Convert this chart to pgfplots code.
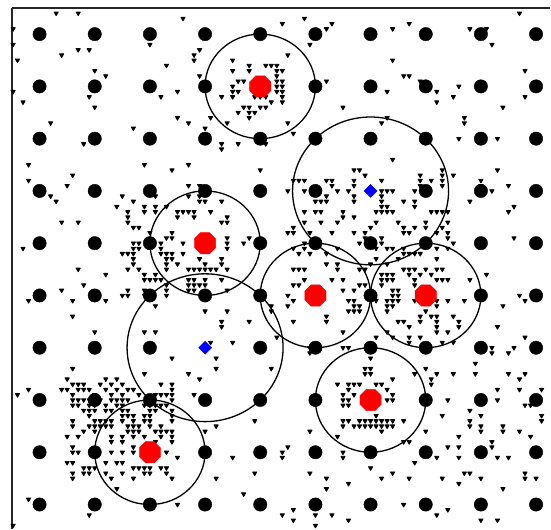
\documentclass[border=0pt]{standalone}
\usepackage{pgfplots}
\pgfplotsset{compat=1.18}
\pgfdeclareplotmark{oct}{%
  \pgfpathmoveto{\pgfpointpolar{22.5}{\pgfplotmarksize}}%
  \pgfpathlineto{\pgfpointpolar{67.5}{\pgfplotmarksize}}%
  \pgfpathlineto{\pgfpointpolar{112.5}{\pgfplotmarksize}}%
  \pgfpathlineto{\pgfpointpolar{157.5}{\pgfplotmarksize}}%
  \pgfpathlineto{\pgfpointpolar{202.5}{\pgfplotmarksize}}%
  \pgfpathlineto{\pgfpointpolar{247.5}{\pgfplotmarksize}}%
  \pgfpathlineto{\pgfpointpolar{292.5}{\pgfplotmarksize}}%
  \pgfpathlineto{\pgfpointpolar{337.5}{\pgfplotmarksize}}%
  \pgfpathclose\pgfusepathqfillstroke}
\begin{document}
\begin{tikzpicture}
\begin{axis}[x=55.2bp, y=52.3bp, scale only axis,
  xmin=0.5, xmax=10.26, ymin=0.54, ymax=10.5,
  axis x line*=top, axis y line*=left, ticks=none,
  axis line style={-, line width=1.2bp, black!85}]
% small sample points
\addplot[only marks, mark=triangle*, mark size=2.4bp, mark options={rotate=180, fill=black, draw=black, line width=0.9bp, line join=round}] coordinates {
(1.3,10.4)(1.7,10.4)(3.6,10.3)(5.4,10.2)(5.8,10.3)(6.3,10.2)(6.2,10.1)(0.52,10.1)
(0.52,9.8)(3.0,9.8)(1.7,9.7)(1.9,9.7)(3.9,9.7)(5.9,9.8)(1.4,9.6)(3.8,9.6)(3.8,9.5)(5.5,9.6)(0.6,9.5)(3.3,9.4)(4.5,9.5)(4.5,9.3)(4.8,9.4)(4.8,9.3)(5.1,9.4)(5.2,9.4)(5.3,9.4)(5.3,9.3)(5.4,9.3)(2.0,9.3)(2.2,9.2)(3.9,9.2)(4.6,9.1)(4.7,9.1)(5.3,9.1)(5.4,9.1)(5.3,9.2)(6.2,9.1)(4.5,9.0)(4.5,8.9)(4.6,8.9)(5.3,9.0)(5.4,9.0)(5.3,8.9)(5.4,8.9)(0.52,8.9)(3.5,8.9)
(1.9,8.8)(3.2,8.8)(4.3,8.8)(4.5,8.8)(4.9,8.8)(5.0,8.8)(5.1,8.8)(5.2,8.7)(5.4,8.8)(5.4,8.7)(0.7,8.7)(4.7,8.6)(4.8,8.6)(5.0,8.6)(5.1,8.6)(2.0,8.6)(6.5,8.6)(4.6,8.5)(4.8,8.5)(4.8,8.4)(4.9,8.5)(3.5,8.4)(4.1,8.4)(1.2,8.3)(3.7,8.3)(4.4,8.3)(5.5,8.3)(2.7,8.2)(4.0,8.2)(5.6,8.1)(1.8,7.9)(4.3,7.9)(4.3,7.8)(4.6,7.9)(5.1,7.9)
(0.8,7.5)(2.9,7.5)(3.7,7.5)(3.4,7.4)(5.0,7.4)(6.7,7.4)(1.6,7.3)(0.8,7.2)(5.6,7.2)(5.7,7.2)(5.8,7.2)(6.2,7.2)(6.3,7.2)(6.3,7.1)(6.7,7.2)(6.7,7.1)(3.7,7.1)(3.9,7.1)(1.5,7.1)(5.8,7.0)(5.5,7.0)(6.4,7.0)(6.6,7.0)(1.2,6.9)(1.3,6.8)(2.5,6.9)(3.7,6.9)(3.9,6.9)(4.3,6.8)(3.1,6.9)(2.7,6.8)(6.0,6.8)(6.1,6.8)(6.2,6.8)(6.2,6.9)(6.7,6.9)(6.7,6.8)
(2.6,6.6)(2.6,6.5)(2.6,6.4)(2.4,6.7)(2.9,6.7)(2.9,6.6)(3.1,6.7)(3.1,6.6)(3.3,6.7)(3.5,6.6)(3.6,6.6)(3.5,6.5)(3.8,6.6)(3.9,6.8)(4.0,6.8)(3.7,6.6)(3.8,6.5)(4.1,6.6)(5.8,6.6)(6.0,6.6)(6.1,6.6)(6.5,6.6)(6.7,6.5)(1.4,6.4)(1.7,6.4)(4.3,6.4)(4.4,6.4)(4.4,6.5)(5.8,6.4)(6.1,6.4)(6.4,6.4)(6.5,6.5)(2.7,6.3)(2.8,6.3)(5.5,6.2)(5.6,6.2)(5.6,6.3)(3.0,6.2)(3.4,6.2)(5.9,6.2)(6.3,6.2)(6.7,6.2)(2.7,6.0)(2.8,6.0)(2.7,5.9)(2.8,5.9)(2.5,5.8)(2.6,5.8)(3.2,6.0)(3.4,6.1)(3.3,6.1)(3.6,6.0)(4.4,6.1)(4.4,6.0)(4.4,5.9)(4.7,6.0)(4.8,6.1)(0.7,5.9)(5.6,5.9)(5.8,5.9)(5.8,6.0)
(2.7,5.8)(2.7,5.7)(3.2,5.9)(3.2,5.8)(3.3,5.8)(3.4,5.8)(3.3,5.7)(3.4,5.7)(3.6,5.8)(3.9,5.7)(4.3,5.7)(5.7,5.8)(5.9,5.8)(6.2,5.8)(6.4,5.9)(1.7,5.5)(2.2,5.4)(2.7,5.6)(2.8,5.5)(2.6,5.5)(2.9,5.4)(3.1,5.4)(3.3,5.6)(3.3,5.5)(3.5,5.6)(3.7,5.5)(3.8,5.5)(3.9,5.5)(4.0,5.6)(4.0,5.5)(4.1,5.5)(4.2,5.5)(4.3,5.6)(4.4,5.5)(5.6,5.5)(5.7,5.5)(5.8,5.5)(6.2,5.6)(6.4,5.6)(6.4,5.5)(5.8,5.3)(6.3,5.3)(6.5,5.3)(2.9,5.3)(3.0,5.3)(3.1,5.3)(3.2,5.3)(3.7,5.3)(3.8,5.3)(4.0,5.3)(4.0,5.2)(4.3,5.3)(3.7,5.2)(3.8,5.2)(3.9,5.2)(3.3,5.2)(5.6,5.2)(5.7,5.2)(1.8,5.2)(1.4,5.1)(2.6,5.1)(2.5,5.0)(2.6,5.0)(2.9,5.1)(2.9,5.0)(3.3,5.1)(3.3,5.0)(3.7,5.1)(3.8,5.1)(4.4,5.1)(5.5,5.0)(6.5,5.1)(6.7,5.1)
(0.8,4.9)(1.6,4.9)(2.2,4.9)(3.1,4.8)(4.0,4.7)(4.4,4.7)(5.2,4.8)(5.2,4.7)(5.5,4.8)(5.6,4.9)(6.6,4.9)(6.7,4.9)(6.7,4.8)(6.6,4.7)(6.7,4.7)(6.2,4.6)(6.2,4.5)(1.6,4.6)(4.3,4.5)(4.3,4.4)(4.8,4.5)(5.6,4.5)(2.0,4.3)(2.9,4.3)(3.1,4.3)(6.5,4.3)(5.3,4.2)(4.5,4.1)(4.1,4.1)(5.9,3.9)(5.9,4.0)(6.5,4.0)(6.6,4.0)
(3.4,3.8)(4.2,3.8)(1.6,3.6)(5.2,3.6)(4.2,3.6)(2.9,3.5)(3.7,3.5)(3.9,3.4)(1.5,3.4)(1.6,3.3)(1.7,3.3)(1.8,3.3)(2.1,3.3)(2.2,3.4)(2.3,3.3)(2.4,3.4)(2.5,3.3)(2.6,3.2)(2.7,3.2)(3.2,3.3)(3.4,3.3)(6.4,3.3)(6.6,3.3)(6.7,3.3)(6.6,3.2)(6.5,3.1)(0.8,3.2)(0.6,3.1)(1.4,3.2)(1.5,3.2)(1.7,3.2)(1.8,3.2)(1.9,3.2)(2.2,3.2)(2.4,3.2)(3.4,3.2)(1.6,3.1)(2.0,3.1)(2.3,3.1)(2.5,3.1)(2.8,3.1)(3.1,3.1)(3.2,3.1)(3.3,3.1)(3.4,3.1)(3.8,3.1)(6.7,3.1)
(1.6,3.0)(1.7,3.0)(1.8,3.0)(1.9,3.0)(2.1,3.0)(2.3,3.0)(2.4,3.0)(2.5,3.0)(2.6,3.0)(3.4,3.0)(6.5,3.0)(6.6,3.0)(1.6,2.9)(1.7,2.9)(1.9,2.9)(2.0,2.9)(2.2,2.9)(2.4,2.9)(2.5,2.9)(2.9,2.9)(3.0,2.9)(3.1,2.9)(3.2,2.9)(3.3,2.9)(6.5,2.9)(6.6,2.9)(1.8,2.8)(1.9,2.8)(2.0,2.8)(2.2,2.8)(2.3,2.8)(2.5,2.8)(2.6,2.8)(3.0,2.8)(3.1,2.8)(3.4,2.8)(1.9,2.7)(2.5,2.7)(2.6,2.7)(2.7,2.7)(2.9,2.7)(3.0,2.7)(3.4,2.7)(1.6,2.6)(2.0,2.6)(2.1,2.6)(2.2,2.6)(2.3,2.6)(2.5,2.6)(2.7,2.6)(2.9,2.6)(3.0,2.6)(3.4,2.6)(4.9,2.6)(6.5,2.6)(6.6,2.6)(1.6,2.5)(1.9,2.5)(2.0,2.5)(2.1,2.5)(2.2,2.5)(2.3,2.5)(2.6,2.5)(2.7,2.5)(2.8,2.5)(3.0,2.5)(3.2,2.5)(4.2,2.5)(6.5,2.5)(6.7,2.5)(1.8,2.4)(2.0,2.4)(2.6,2.4)(2.7,2.4)(2.8,2.4)(3.1,2.4)(3.2,2.4)(3.3,2.4)(3.4,2.4)(4.0,2.4)(5.9,2.4)(6.4,2.3)(1.5,2.3)(1.7,2.3)(2.3,2.3)(2.5,2.3)(2.7,2.3)(2.9,2.3)(3.2,2.3)(3.4,2.3)(1.6,2.1)(2.3,2.2)(2.5,2.2)(2.7,2.1)(3.1,2.2)(3.4,2.2)(1.6,2.0)(1.7,2.0)(2.3,2.0)(2.5,2.0)(2.7,2.0)(3.3,2.0)(3.5,1.9)(4.5,1.9)(5.4,2.0)(5.5,2.1)(5.4,1.9)(6.5,2.0)(6.5,1.9)
(1.5,1.8)(1.6,1.8)(1.8,1.7)(1.9,1.7)(2.0,1.7)(2.2,1.8)(2.4,1.8)(2.5,1.8)(2.7,1.7)(2.8,1.7)(2.9,1.7)(3.0,1.7)(3.2,1.7)(3.3,1.7)(1.6,1.6)(1.6,1.5)(1.8,1.6)(1.9,1.6)(2.2,1.6)(2.3,1.5)(2.5,1.6)(2.7,1.5)(2.9,1.6)(3.0,1.6)(3.3,1.6)(3.4,1.5)(5.9,1.6)(4.2,1.5)(4.9,1.6)(6.2,1.5)(2.4,1.3)(6.2,1.3)(6.6,1.4)(4.7,1.2)(0.8,1.1)(3.5,1.0)(1.9,0.8)(5.4,0.8)(5.6,0.9)(5.6,0.7)(6.0,0.8)(6.0,0.6)(6.3,0.8)(6.6,0.7)(0.52,0.6)
(7.4,10.1)(7.7,10.2)(8.8,10.1)(9.1,10.1)(9.2,9.8)(9.7,10.4)(7.4,9.5)(7.6,9.2)(7.7,9.2)(7.9,9.1)(7.3,8.9)(8.2,8.9)(8.6,9.0)(8.5,8.8)(8.2,8.7)(9.8,9.3)(9.8,8.8)(9.4,8.6)(8.7,8.4)(8.7,8.3)(7.2,8.3)(7.3,8.4)(8.6,8.0)(9.3,8.0)(7.4,7.6)(9.3,7.4)(6.9,7.3)(7.9,7.3)(7.9,7.2)(7.9,7.1)(8.1,7.2)(8.3,7.4)(8.3,7.3)(8.3,7.2)(8.3,7.1)(8.5,7.3)(9.0,7.2)(9.0,7.1)(9.5,7.1)(9.2,7.0)(8.8,6.8)(9.5,6.6)(9.6,6.7)(7.2,7.2)(6.8,7.4)
(7.2,7.0)(7.3,7.0)(7.4,7.0)(7.8,7.0)(7.2,6.9)(7.2,6.8)(7.6,6.8)(7.8,6.8)(7.8,6.7)(7.1,6.6)(7.2,6.7)(7.2,6.6)(7.3,6.7)(7.3,6.6)(7.4,6.6)(8.1,6.6)(8.2,6.6)(8.3,6.6)(8.4,6.6)(6.9,6.2)(7.0,6.3)(7.1,6.4)(7.5,6.4)(7.6,6.3)(7.6,6.2)(7.7,6.2)(7.8,6.3)(8.0,6.4)(8.0,6.3)(8.3,6.3)(8.4,6.4)(8.4,6.2)(8.4,6.1)(8.2,6.2)(7.2,6.1)(6.9,6.1)(6.8,6.0)(7.1,5.9)(7.2,6.0)(7.3,5.9)(7.4,5.9)(7.6,5.9)(7.6,5.8)(7.7,5.8)(7.8,5.8)(7.9,5.8)(8.2,5.9)(8.4,5.9)(8.5,6.0)(9.6,6.1)(8.2,5.7)(7.5,5.7)(7.1,5.7)
(7.0,5.6)(7.3,5.6)(7.6,5.5)(7.7,5.5)(7.8,5.5)(8.0,5.5)(8.2,5.5)(8.3,5.5)(6.8,5.5)(6.9,5.5)(7.2,5.4)(7.3,5.4)(7.4,5.4)(7.7,5.4)(7.9,5.4)(8.1,5.4)(9.1,5.4)(7.2,5.3)(7.3,5.3)(7.4,5.3)(7.8,5.3)(8.2,5.3)(8.3,5.3)(8.4,5.3)(8.8,5.3)(7.2,5.2)(7.8,5.2)(6.8,5.2)(6.9,5.2)(7.4,5.1)(7.5,5.1)(7.4,5.0)(7.5,5.0)(9.7,5.0)(7.1,4.9)(7.3,4.9)(7.4,4.9)(7.5,4.9)(7.8,4.9)(8.2,4.9)(8.4,4.9)(8.7,4.9)(9.8,4.9)(7.3,4.8)(7.4,4.8)(8.2,4.8)(9.4,4.8)(6.8,4.8)(6.8,4.7)(7.3,4.7)(8.0,4.7)(7.9,4.6)(8.1,4.6)(8.2,4.6)(8.5,4.6)(7.5,4.5)(7.6,4.5)(7.7,4.4)(7.9,4.5)(8.2,4.5)(8.6,4.5)(8.2,4.4)(8.6,4.4)(9.3,4.4)(7.3,4.3)(8.2,4.3)(8.4,4.3)(7.1,4.2)(7.4,4.2)(7.7,4.2)(7.9,4.2)(9.8,4.2)(7.7,4.1)(8.3,4.1)(8.5,4.1)(9.2,4.0)(9.6,4.0)(9.2,3.9)(9.5,3.9)
(7.0,3.8)(8.0,3.6)(8.9,3.7)(6.9,3.6)(7.0,3.6)(6.9,3.5)(7.0,3.5)(7.8,3.5)(8.2,3.5)(8.5,3.5)(8.9,3.5)(9.5,3.5)(9.8,3.5)(7.4,3.4)(8.1,3.4)(9.7,3.4)(7.1,3.3)(7.2,3.3)(8.1,3.3)(6.8,3.3)(9.3,3.2)(9.7,3.2)(10.1,3.2)(7.3,3.2)(7.4,3.1)(7.3,3.0)(7.4,3.0)(8.4,3.0)(9.3,3.0)(9.9,2.9)(9.8,2.9)
(6.8,2.6)(6.9,2.6)(7.0,2.6)(7.1,2.6)(7.2,2.6)(7.3,2.6)(7.4,2.6)(7.1,2.7)(6.8,2.5)(6.9,2.5)(7.0,2.5)(7.1,2.5)(7.2,2.5)(7.3,2.5)(7.4,2.5)(7.2,2.4)(7.6,2.6)(8.8,2.8)(8.8,2.6)(8.8,2.5)(9.0,2.7)(9.0,2.5)(9.0,2.4)(8.3,2.7)(10.1,2.7)(10.1,2.6)(9.4,2.5)(9.4,2.4)(9.7,2.4)(9.9,2.3)(8.0,2.4)(8.6,2.3)(8.6,2.1)(8.4,2.1)(8.2,1.9)(8.6,1.9)(9.2,2.2)(9.2,2.1)(9.3,1.9)(9.5,1.9)(7.7,2.2)(7.6,2.2)
(7.8,1.8)(7.0,1.7)(7.4,1.6)(7.2,1.5)(7.7,1.5)(8.3,1.5)(8.7,1.6)(8.8,1.6)(9.0,1.5)(9.8,1.6)(9.8,1.5)(10.0,1.5)(8.6,1.4)(9.4,1.3)(7.6,1.0)(8.2,0.8)(8.4,0.9)(9.0,0.7)(9.3,0.7)
};
% regular grid (the two blue centres stand in for their grid points)
\addplot[only marks, mark=*, mark size=6.7bp, mark options={fill=black, draw=black}] coordinates {
(1,1)(2,1)(3,1)(4,1)(5,1)(6,1)(7,1)(8,1)(9,1)(10,1)
(1,2)(2,2)(3,2)(4,2)(5,2)(6,2)(7,2)(8,2)(9,2)(10,2)
(1,3)(2,3)(3,3)(4,3)(5,3)(6,3)(7,3)(8,3)(9,3)(10,3)
(1,4)(2,4)(3,4)(5,4)(6,4)(7,4)(8,4)(9,4)(10,4)
(1,5)(2,5)(3,5)(4,5)(5,5)(6,5)(7,5)(8,5)(9,5)(10,5)
(1,6)(2,6)(3,6)(4,6)(5,6)(6,6)(7,6)(8,6)(9,6)(10,6)
(1,7)(2,7)(3,7)(4,7)(5,7)(6,7)(8,7)(9,7)(10,7)
(1,8)(2,8)(3,8)(4,8)(5,8)(6,8)(7,8)(8,8)(9,8)(10,8)
(1,9)(2,9)(3,9)(4,9)(5,9)(6,9)(7,9)(8,9)(9,9)(10,9)
(1,10)(2,10)(3,10)(4,10)(5,10)(6,10)(7,10)(8,10)(9,10)(10,10)
};
% circles
\draw[line width=1.3bp] (axis cs:5,9) ellipse [x radius=1, y radius=1];
\draw[line width=1.3bp] (axis cs:4,6) ellipse [x radius=1, y radius=1];
\draw[line width=1.3bp] (axis cs:6,5) ellipse [x radius=1, y radius=1];
\draw[line width=1.3bp] (axis cs:8,5) ellipse [x radius=1, y radius=1];
\draw[line width=1.3bp] (axis cs:7,3) ellipse [x radius=1, y radius=1];
\draw[line width=1.3bp] (axis cs:3,2) ellipse [x radius=1, y radius=1];
\draw[line width=1.3bp] (axis cs:7,7) ellipse [x radius=1.414, y radius=1.414];
\draw[line width=1.3bp] (axis cs:4,4) ellipse [x radius=1.414, y radius=1.414];
% centres
\addplot[only marks, mark=oct, mark size=11.5bp, mark options={fill=red, draw=red}] coordinates {
(5,9)(4,6)(6,5)(8,5)(7,3)(3,2)};
\addplot[only marks, mark=square*, mark size=4.6bp, mark options={rotate=45, fill=blue, draw=blue}] coordinates {
(7,7)(4,4)};
\end{axis}
\path ([xshift=-12bp,yshift=8bp]current axis.north west) rectangle (current axis.south east);
\end{tikzpicture}
\end{document}
